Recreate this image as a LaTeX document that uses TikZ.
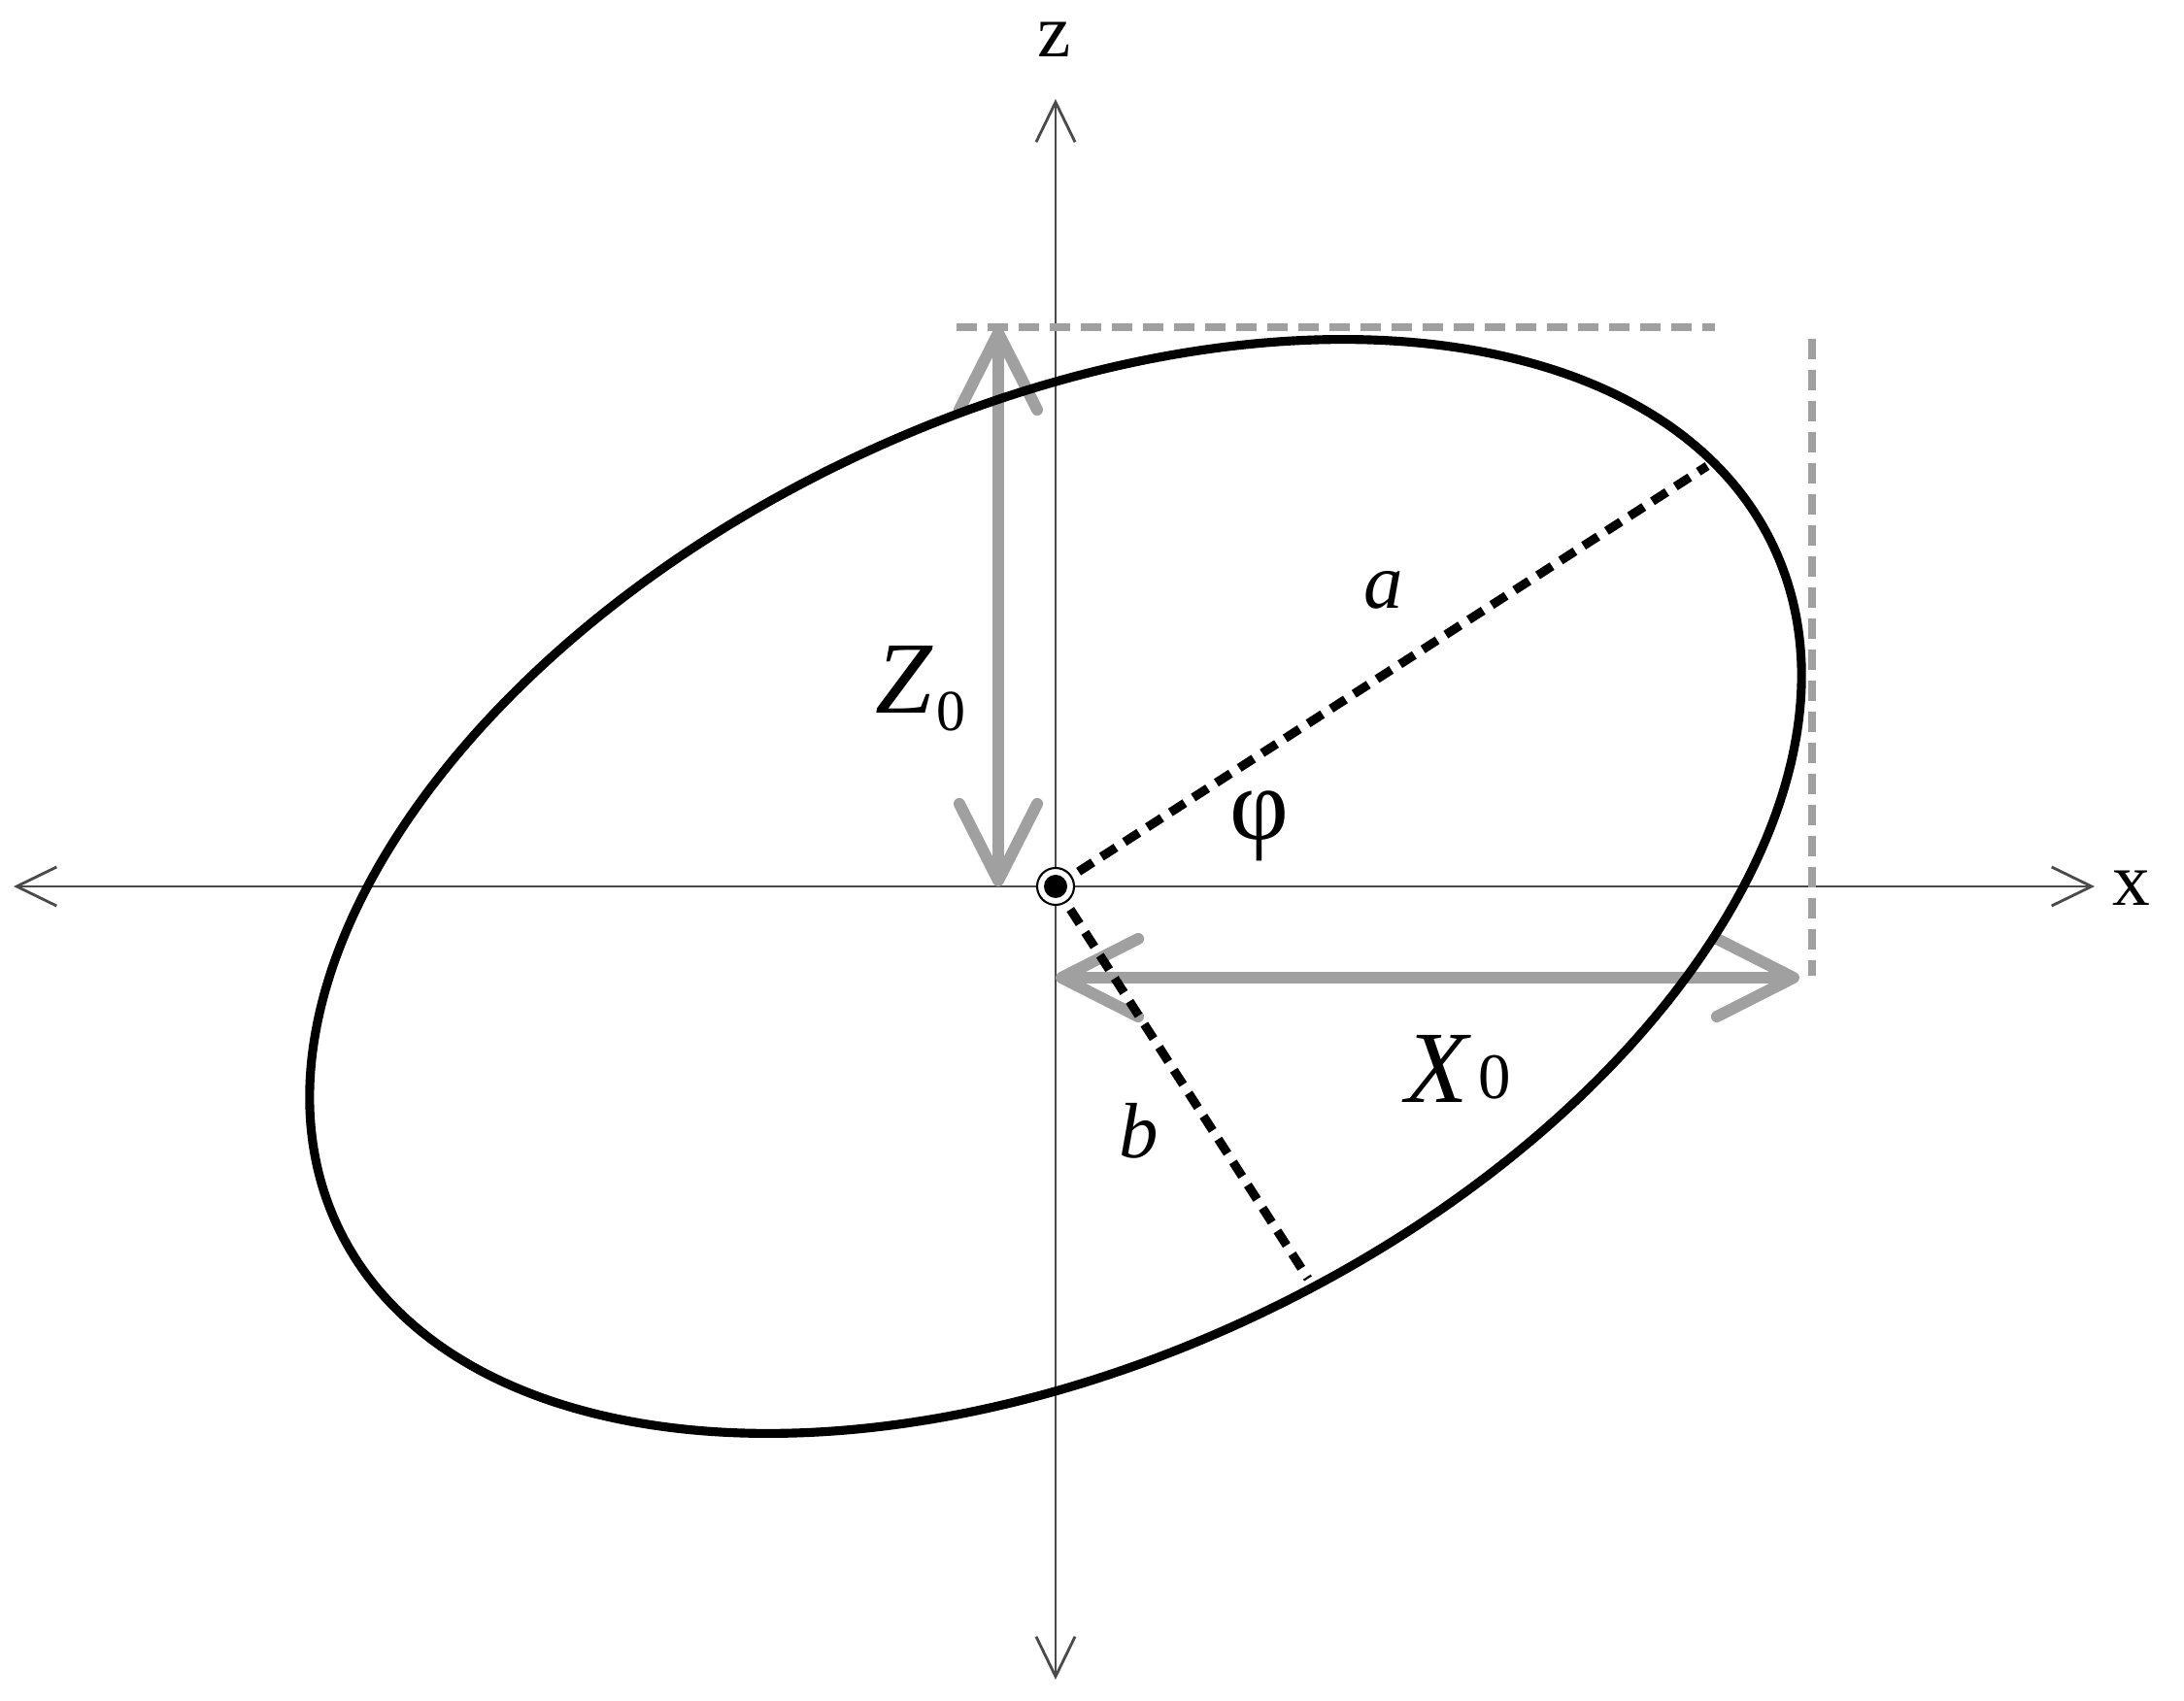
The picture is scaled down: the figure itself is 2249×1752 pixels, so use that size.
\documentclass[tikz,border=0pt]{standalone}
\usepackage{fontspec}
\setmainfont{Liberation Serif}
\usetikzlibrary{arrows.meta}
\definecolor{guidegray}{HTML}{A0A0A0}
\definecolor{axisgray}{HTML}{4A4A4A}
\begin{document}
\begin{tikzpicture}[x=0.01cm,y=0.01cm,
  axisline/.style={draw=axisgray,line width=0.8pt,
    {Straight Barb[length=11.7pt,width=11.4pt]}-{Straight Barb[length=11.7pt,width=11.4pt]}},
  ellipseline/.style={draw=black,line width=2.6pt},
  halfaxis/.style={draw=black,line width=2.6pt,dash pattern=on 5pt off 3pt},
  guideline/.style={draw=guidegray,line width=2.5pt,dash pattern=on 6pt off 3.1pt},
  dimarrow/.style={draw=guidegray,line width=3.4pt,
    {Straight Barb[length=22.5pt,width=22.8pt,round]}-{Straight Barb[length=22.5pt,width=22.8pt,round]}},
  axislabel/.style={inner sep=0pt,font=\fontsize{22}{22}\selectfont},
  biglabel/.style={inner sep=0pt,font=\fontsize{30}{30}\selectfont},
  smalllabel/.style={inner sep=0pt,font=\fontsize{23}{23}\selectfont}]
\useasboundingbox (-1087,-839) rectangle (1162,913);
% coordinates
\coordinate (O) at (0,0);
\coordinate (xl) at (-1073,0);
\coordinate (xr) at (1070,0);
\coordinate (zb) at (0,-817);
\coordinate (zt) at (0,811);
\coordinate (A) at (671,433);
\coordinate (B) at (260,-404);
\coordinate (h1) at (-102,576);
\coordinate (h2) at (679,576);
\coordinate (v1) at (779,564);
\coordinate (v2) at (779,-92);
\coordinate (z0b) at (-59,0);
\coordinate (z0t) at (-59,576);
\coordinate (x0l) at (0,-94);
\coordinate (x0r) at (766,-94);
% axes
\draw[axisline] (xl) -- (xr);
\draw[axisline] (zb) -- (zt);
% guides and dimension arrows
\draw[guideline] (h1) -- (h2);
\draw[guideline] (v1) -- (v2);
\draw[dimarrow] (z0b) -- (z0t);
\draw[dimarrow] (x0l) -- (x0r);
% ellipse and half axes
\draw[ellipseline,rotate=25.4] (O) ellipse [x radius=818, y radius=488];
\draw[halfaxis] (O) -- (A);
\draw[halfaxis] (O) -- (B);
% centre mark
\draw[black,line width=0.6pt,fill=white] (O) circle [radius=19];
\fill[black] (O) circle [radius=12];
% labels
\node[axislabel] (zlab) at (-1,872) {z};
\node[axislabel] (xlab) at (1108,-2) {x};
\node[smalllabel] (alab) at (338,305) {\textit{a}};
\node[smalllabel] (blab) at (86,-252) {\textit{b}};
\node[smalllabel,font=\fontsize{30}{30}\selectfont] (phlab) at (210,62) {φ};
\node[biglabel,anchor=base west] (Zlab) at (-186,178) {\textit{Z}\kern0.8pt\raisebox{-5pt}{\fontsize{17}{17}\selectfont 0}};
\node[biglabel,anchor=base west] (Xlab) at (360,-222) {\textit{X}\kern2pt\raisebox{1pt}{\fontsize{19}{19}\selectfont 0}};
\end{tikzpicture}
\end{document}
